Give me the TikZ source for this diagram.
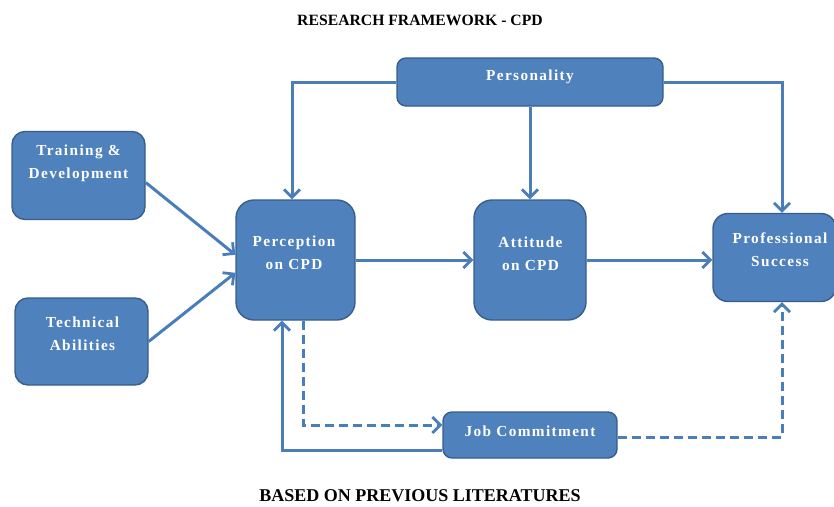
\documentclass[tikz,border=0pt]{standalone}
\usepackage{fontspec}
\setmainfont{Liberation Serif}
\newfontfamily\boxfont[LetterSpace=9]{Liberation Serif}
\usetikzlibrary{arrows.meta,calc}
\definecolor{boxfill}{HTML}{4F81BD}
\definecolor{boxline}{HTML}{385D8A}
\definecolor{conn}{HTML}{4A7EBB}
\tikzset{
  box/.style={draw=boxline, fill=boxfill, line width=1.4pt, inner sep=0pt},
  boxtext/.style={text=white, font=\boxfont\bfseries\fontsize{15.3}{23}\selectfont, align=center, inner sep=0pt},
  heading/.style={font=\bfseries, text=black, inner sep=0pt},
  tip/.style={-{Straight Barb[length=8pt,width=16pt,line width=2.8pt]}},
  arr/.style={draw=conn, line width=3pt, tip},
  dline/.style={draw=conn, line width=3pt, dash pattern=on 9pt off 5pt}
}
\begin{document}
\begin{tikzpicture}[x=1pt,y=-1pt]
\useasboundingbox (0,0) rectangle (834,506);
% headings
\node[heading, font=\bfseries\fontsize{15.7}{18}\selectfont] (title) at (420,20) {RESEARCH FRAMEWORK - CPD};
\node[heading, font=\bfseries\fontsize{18}{20}\selectfont] (foot) at (420,496) {BASED ON PREVIOUS LITERATURES};
% boxes
\node[box, rounded corners=9pt, minimum width=266pt, minimum height=48pt] (pers) at (530,82) {};
\node[boxtext] (perst) at (530,77) {Personality};
\node[box, rounded corners=13pt, minimum width=133pt, minimum height=88pt] (train) at (78.5,175.5) {};
\node[boxtext] (traint) at (78.5,163) {Training \&\\Development};
\node[box, rounded corners=13pt, minimum width=133pt, minimum height=87pt] (tech) at (81.5,341.5) {};
\node[boxtext] (techt) at (82.5,334) {Technical\\Abilities};
\node[box, rounded corners=18pt, minimum width=119pt, minimum height=120pt] (perc) at (295.5,260) {};
\node[boxtext] (perct) at (294,253) {Perception\\on CPD};
\node[box, rounded corners=18pt, minimum width=112pt, minimum height=120pt] (att) at (530,260) {};
\node[boxtext] (attt) at (530.5,254) {Attitude\\on CPD};
\node[box, rounded corners=15pt, minimum width=123pt, minimum height=88pt] (prof) at (774.5,257.5) {};
\node[boxtext] (proft) at (780,250) {Professional\\Success};
\node[box, rounded corners=9pt, minimum width=174pt, minimum height=46pt] (job) at (530,435) {};
\node[boxtext] (jobt) at (530,431) {Job Commitment};
% connectors
\draw[arr] (pers.west) -| ([xshift=-3.5pt]perc.north);
\draw[arr] (pers.east) -| ([xshift=7.5pt]prof.north);
\draw[arr] (pers.south -| att.north) -- (att.north);
\draw[arr] ([yshift=-7pt]train.east) -- (perc.175);
\draw[arr] (tech.east) -- (perc.192);
\draw[arr] (perc.east) -- (att.west);
\draw[arr] (att.east) -- (att.east -| prof.west);
\draw[arr] ([yshift=-15pt]job.west) -| ([xshift=-13.5pt]perc.south);
\draw[dline, tip] ([xshift=7.5pt]perc.south) |- ([yshift=10pt]job.west);
\draw[dline, tip] ([yshift=-2pt]job.east) -| ([xshift=7.5pt]prof.south);
\end{tikzpicture}
\end{document}
